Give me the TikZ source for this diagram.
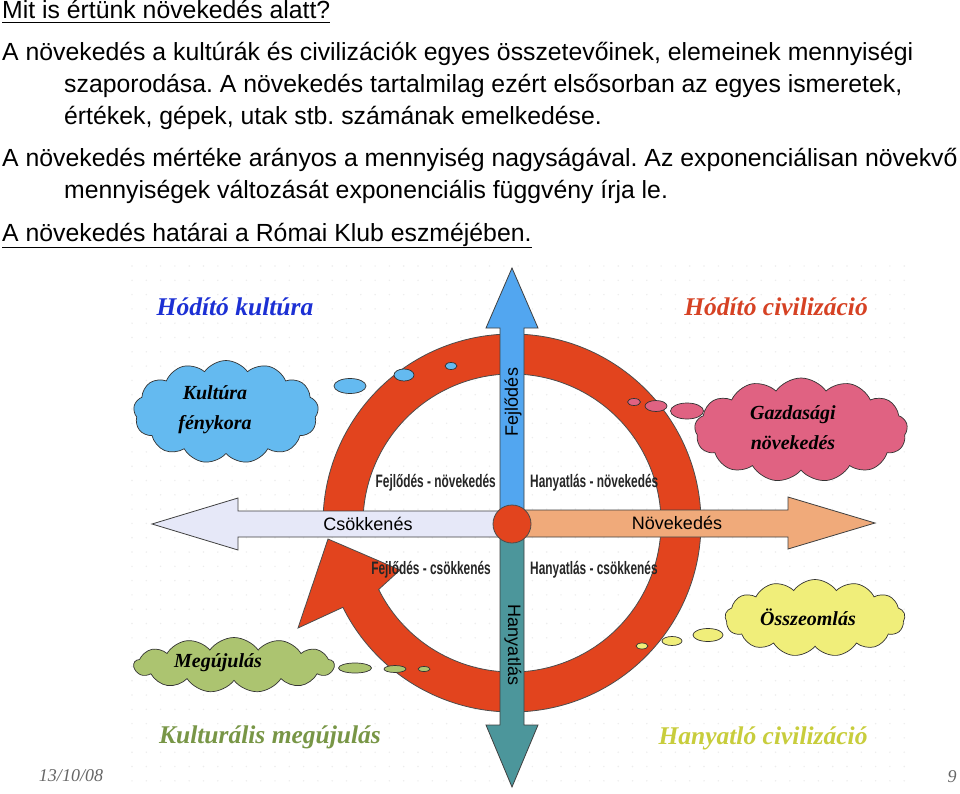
\documentclass[tikz,border=0pt]{standalone}
\usepackage{fontspec}
\setmainfont{Liberation Sans}
\newfontfamily\keskeny[FakeStretch=0.66]{Liberation Sans Bold}
\newfontfamily\kezi{Liberation Serif}
\newfontfamily\datum{Liberation Serif}
\usetikzlibrary{shapes.symbols}
\frenchspacing
\definecolor{gyurupiros}{RGB}{226,68,30}
\definecolor{kek}{RGB}{82,166,240}
\definecolor{zoldeskek}{RGB}{76,150,155}
\definecolor{levendula}{RGB}{230,232,248}
\definecolor{barack}{RGB}{240,170,122}
\definecolor{felhokek}{RGB}{100,186,240}
\definecolor{felhorozsa}{RGB}{224,98,130}
\definecolor{felhosarga}{RGB}{240,238,122}
\definecolor{felhozold}{RGB}{172,196,112}
\definecolor{cimkek}{RGB}{28,48,212}
\definecolor{cimpiros}{RGB}{214,66,36}
\definecolor{cimzold}{RGB}{120,150,70}
\definecolor{cimsarga}{RGB}{200,205,60}
\begin{document}
\begin{tikzpicture}[x=1pt,y=1pt,
  sor/.style={anchor=base west,inner sep=0pt,font=\fontsize{24.8}{28}\selectfont},
  nyil/.style={draw=black!75,line width=0.8pt,line join=miter},
  tengely/.style={inner sep=0pt,font=\fontsize{18}{20}\selectfont},
  negyed/.style={inner sep=0pt,text=black!85,font=\keskeny\fontsize{18}{20}\selectfont},
  cim/.style={inner sep=0pt,font=\kezi\bfseries\itshape\fontsize{25.5}{28}\selectfont},
  felho/.style={cloud,cloud puffs=13,cloud puff arc=110,cloud ignores aspect,draw=black!80,line width=0.7pt,inner sep=0pt},
  felhoszoveg/.style={inner sep=0pt,align=center,font=\kezi\bfseries\itshape\fontsize{20}{30}\selectfont},
  buborek/.style={draw=black!80,line width=0.7pt}]
\useasboundingbox (0,0) rectangle (960,-794);
\fill[white] (0,0) rectangle (960,-794);
% faint dot grid of the slide
\foreach \i in {0,...,54}
  \foreach \j in {0,...,36}
    \fill[black!7] (132+\i*14.3,-266-\j*14.3) circle (0.8);
% text of the slide
\node[sor] (l1) at (2,-19) {Mit is értünk növekedés alatt?};
\draw[line width=1.3pt] ([yshift=-3.5pt]l1.base west) -- ([yshift=-3.5pt]l1.base east);
\node[sor] (l2) at (2,-61) {A növekedés a kultúrák és civilizációk egyes összetevőinek, elemeinek mennyiségi};
\node[sor] (l3) at (64,-93) {szaporodása. A növekedés tartalmilag ezért elsősorban az egyes ismeretek,};
\node[sor] (l4) at (64,-125) {értékek, gépek, utak stb. számának emelkedése.};
\node[sor] (l5) at (2,-167) {A növekedés mértéke arányos a mennyiség nagyságával. Az exponenciálisan növekvő};
\node[sor] (l6) at (64,-199) {mennyiségek változását exponenciális függvény írja le.};
\node[sor] (l7) at (2,-242) {A növekedés határai a Római Klub eszméjében.};
\draw[line width=1.3pt] ([yshift=-5.5pt]l7.base west) -- ([yshift=-5.5pt]l7.base east);
% the ring arrow
\coordinate (kozep) at (512,-523);
\begin{scope}[shift={(kozep)}]
\filldraw[fill=gyurupiros,draw=black!70,line width=0.8pt]
  (180:189) arc[start angle=180,end angle=-153.5,radius=189]
  -- (-214,-105) -- (-184,-16) -- (-112,-47) -- (-153.5:149)
  arc[start angle=-153.5,end angle=180,radius=149] -- cycle;
\end{scope}
% horizontal arrows
\filldraw[nyil,fill=levendula] (512,-511) -- (238,-511) -- (238,-498) -- (152,-524)
  -- (238,-550) -- (238,-537) -- (512,-537) -- cycle;
\filldraw[nyil,fill=barack] (512,-510) -- (788,-510) -- (788,-497) -- (875,-523)
  -- (788,-549) -- (788,-537) -- (512,-537) -- cycle;
% vertical arrows
\filldraw[nyil,fill=kek] (500,-523) -- (500,-328) -- (486,-328) -- (512,-268)
  -- (538,-328) -- (524,-328) -- (524,-523) -- cycle;
\filldraw[nyil,fill=zoldeskek] (500,-523) -- (500,-725) -- (486,-725) -- (512,-787)
  -- (538,-725) -- (524,-725) -- (524,-523) -- cycle;
\filldraw[fill=gyurupiros,draw=black!70,line width=0.8pt] (512,-524) circle (19);
% axis labels
\node[tengely,rotate=90] (fejlodes) at (513,-402) {Fejlődés};
\node[tengely,rotate=-90] (hanyatlas) at (513,-645) {Hanyatlás};
\node[tengely] (csokkenes) at (368,-524) {Csökkenés};
\node[tengely] (novekedes) at (677,-523) {Növekedés};
\node[negyed,anchor=east] (fn) at (496,-483) {Fejlődés - növekedés};
\node[negyed,anchor=west] (hn) at (530,-483) {Hanyatlás - növekedés};
\node[negyed,anchor=east] (fc) at (491,-570) {Fejlődés - csökkenés};
\node[negyed,anchor=west] (hc) at (530,-570) {Hanyatlás - csökkenés};
% clouds and bubbles
\node[felho,fill=felhokek,minimum width=185,minimum height=103] (kekfelho) at (226,-412) {};
\node[felhoszoveg] (kekszoveg) at (215,-410) {Kultúra\\fénykora};
\filldraw[buborek,fill=felhokek] (350,-386) ellipse (16 and 7.5);
\filldraw[buborek,fill=felhokek] (404,-375) ellipse (10 and 6);
\filldraw[buborek,fill=felhokek] (451,-366) ellipse (6 and 3.5);
\node[felho,fill=felhorozsa,minimum width=213,minimum height=104] (rozsafelho) at (801,-430) {};
\node[felhoszoveg] (rozsaszoveg) at (793,-428) {Gazdasági\\növekedés};
\filldraw[buborek,fill=felhorozsa] (687,-411) ellipse (16.5 and 8);
\filldraw[buborek,fill=felhorozsa] (656,-406) ellipse (11 and 5.5);
\filldraw[buborek,fill=felhorozsa] (634,-402) ellipse (6.5 and 3.5);
\node[felho,fill=felhosarga,minimum width=180,minimum height=77] (sargafelho) at (815,-618) {};
\node[felhoszoveg] (sargaszoveg) at (808,-617) {Összeomlás};
\filldraw[buborek,fill=felhosarga] (708,-635) ellipse (15 and 6.5);
\filldraw[buborek,fill=felhosarga] (672,-641) ellipse (10 and 4.5);
\filldraw[buborek,fill=felhosarga] (642,-646) ellipse (6 and 3);
\node[felho,fill=felhozold,minimum width=200,minimum height=55] (zoldfelho) at (234,-665) {};
\node[felhoszoveg] (zoldszoveg) at (218,-663) {Megújulás};
\filldraw[buborek,fill=felhozold] (355,-668) ellipse (16.5 and 5);
\filldraw[buborek,fill=felhozold] (395,-669) ellipse (11 and 3.5);
\filldraw[buborek,fill=felhozold] (424,-669) ellipse (6 and 2.5);
% corner titles
\node[cim,text=cimkek] (hkultura) at (235,-307) {Hódító kultúra};
\node[cim,text=cimpiros] (hciv) at (776,-307) {Hódító civilizáció};
\node[cim,text=cimzold] (kmeg) at (270,-737) {Kulturális megújulás};
\node[cim,text=cimsarga] (hanyciv) at (763,-738) {Hanyatló civilizáció};
% footer
\node[inner sep=0pt,text=black!60,font=\datum\itshape\fontsize{18}{20}\selectfont] (datumszov) at (71,-776) {13/10/08};
\node[inner sep=0pt,text=black!60,font=\datum\itshape\fontsize{18}{20}\selectfont] (oldal) at (952,-777) {9};
\end{tikzpicture}
\end{document}
